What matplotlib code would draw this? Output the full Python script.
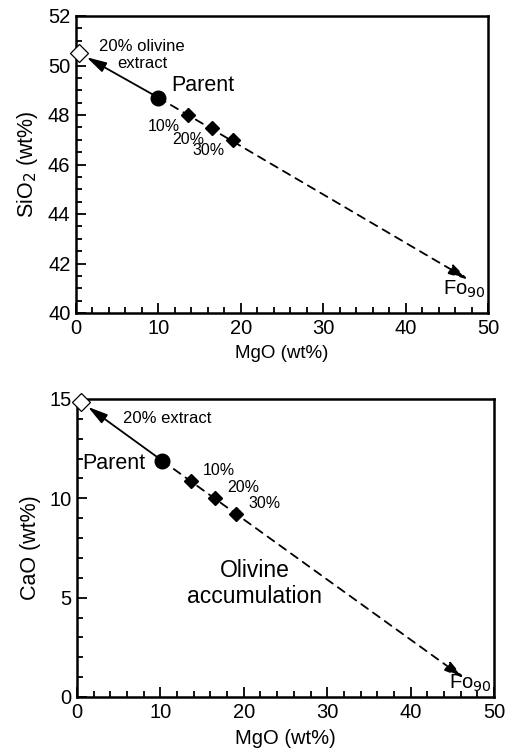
import matplotlib
matplotlib.use('Agg')
import matplotlib.pyplot as plt
from matplotlib.ticker import MultipleLocator

plt.rcParams['font.family'] = ['Liberation Sans', 'DejaVu Sans']

# Top panel: SiO2 vs MgO
parent_si = (10.0, 48.7)
accum_mgo_si = [13.6, 16.5, 19.0]
accum_si = [48.0, 47.47, 47.0]
extract_si = (0.4, 50.5)
fo90_si = (47.6, 41.35)

# Bottom panel: CaO vs MgO
parent_ca = (10.2, 11.9)
accum_mgo_ca = [13.7, 16.6, 19.1]
accum_ca = [10.85, 10.0, 9.2]
extract_ca = (0.5, 14.85)
fo90_ca = (46.4, 0.95)

pct_labels = ['10%', '20%', '30%']

fig = plt.figure(figsize=(5.07, 7.54), dpi=100)
ax1 = fig.add_axes([76/507, 1 - 313/754, 412/507, 297/754])
ax2 = fig.add_axes([77/507, 1 - 697/754, 417/507, 298/754])

HEAD = '-|>,head_length=0.6,head_width=0.16'


def style(ax, ymin, ymax, ymaj, ymin_step):
    ax.set_xlim(0, 50)
    ax.set_ylim(ymin, ymax)
    ax.xaxis.set_major_locator(MultipleLocator(10))
    ax.xaxis.set_minor_locator(MultipleLocator(2))
    ax.yaxis.set_major_locator(MultipleLocator(ymaj))
    ax.yaxis.set_minor_locator(MultipleLocator(ymin_step))
    ax.tick_params(which='both', direction='in', top=False, right=False,
                   labelsize=14.5, width=1.3, pad=4)
    ax.tick_params(which='major', length=7)
    ax.tick_params(which='minor', length=4)
    for s in ax.spines.values():
        s.set_linewidth(1.8)


def draw(ax, parent, xs, ys, extract, fo90):
    ax.annotate('', xy=extract, xytext=parent,
                arrowprops=dict(arrowstyle=HEAD, color='black', lw=1.3,
                                mutation_scale=20, shrinkA=0, shrinkB=6))
    ax.annotate('', xy=fo90, xytext=parent,
                arrowprops=dict(arrowstyle=HEAD, color='black', lw=1.3,
                                linestyle=(0, (4.5, 3.5)), mutation_scale=20,
                                shrinkA=0, shrinkB=0))
    ax.plot(*extract, marker='D', ms=9, mfc='white', mec='black', mew=0.9,
            clip_on=False, zorder=5)
    ax.plot(*parent, marker='o', ms=10.5, color='black', zorder=5)
    ax.plot(xs, ys, linestyle='none', marker='D', ms=7.5, color='black', zorder=5)


# top
style(ax1, 40, 52, 2, 0.5)
draw(ax1, parent_si, accum_mgo_si, accum_si, extract_si, fo90_si)
ax1.set_ylabel('SiO$_2$ (wt%)', fontsize=15.5, labelpad=6)
ax1.set_xlabel('MgO (wt%)', fontsize=13.5, labelpad=5)
ax1.text(8.0, 50.42, '20% olivine\nextract', fontsize=12, ha='center',
         va='center', linespacing=1.15)
ax1.text(11.5, 49.2, 'Parent', fontsize=15.5, ha='left', va='center')
for x, y, t in zip(accum_mgo_si, accum_si, pct_labels):
    ax1.text(x - 2.9, y - 0.45, t, fontsize=11.5, ha='center', va='center')
ax1.text(44.5, 40.95, 'Fo$_{90}$', fontsize=14.5, ha='left', va='center')

# bottom
style(ax2, 0, 15, 5, 1)
draw(ax2, parent_ca, accum_mgo_ca, accum_ca, extract_ca, fo90_ca)
ax2.set_ylabel('CaO (wt%)', fontsize=15.5, labelpad=6)
ax2.set_xlabel('MgO (wt%)', fontsize=14.5, labelpad=5)
ax2.text(5.5, 14.0, '20% extract', fontsize=12, ha='left', va='center')
ax2.text(0.6, 11.75, 'Parent', fontsize=15.5, ha='left', va='center')
for x, y, t in zip(accum_mgo_ca, accum_ca, pct_labels):
    ax2.text(x + 1.4, y + 0.55, t, fontsize=11.5, ha='left', va='center')
ax2.text(21.3, 5.7, 'Olivine\naccumulation', fontsize=16.5, ha='center',
         va='center', linespacing=1.15)
ax2.text(44.6, 0.7, 'Fo$_{90}$', fontsize=14.5, ha='left', va='center')

fig.savefig('out.png', dpi=100)
